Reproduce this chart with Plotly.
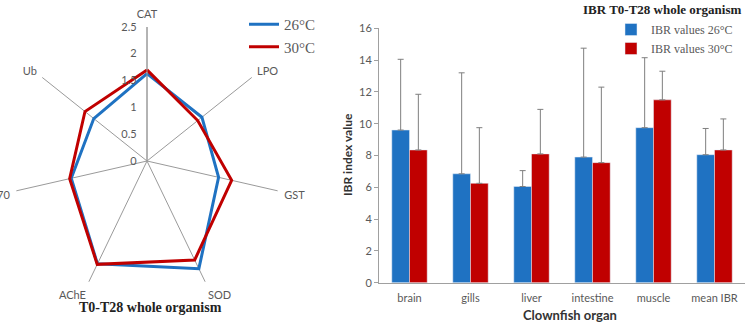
import plotly.graph_objects as go

# Radar data
biomarkers = ["CAT", "LPO", "GST", "SOD", "AChE", "HSP70", "Ub"]
radar_26 = [1.63, 1.31, 1.37, 2.23, 2.13, 1.45, 1.27]
radar_30 = [1.70, 1.21, 1.62, 2.05, 2.14, 1.48, 1.48]
radial_ticks = [0, 0.5, 1, 1.5, 2, 2.5]

# Bar data
organs = ["brain", "gills", "liver", "intestine", "muscle", "mean IBR"]
ibr_26 = [9.6, 6.85, 6.05, 7.9, 9.75, 8.05]
ibr_26_err = [4.45, 6.35, 1.0, 6.85, 4.4, 1.65]
ibr_30 = [8.35, 6.25, 8.1, 7.55, 11.5, 8.35]
ibr_30_err = [3.5, 3.5, 2.8, 4.75, 1.8, 1.95]
y_ticks = [0, 2, 4, 6, 8, 10, 12, 14, 16]

BLUE = "#1F72C2"
RED = "#C00000"
GREY = "#595959"
W, H = 749, 322

fig = go.Figure()

for name, vals, col in [("26°C", radar_26, BLUE), ("30°C", radar_30, RED)]:
    fig.add_trace(go.Scatterpolar(
        r=vals + vals[:1], theta=biomarkers + biomarkers[:1],
        mode="lines", name=name, line=dict(color=col, width=3),
        legend="legend", hoverinfo="skip",
    ))

fig.add_trace(go.Bar(
    x=organs, y=ibr_26, name="IBR values 26°C", marker_color=BLUE,
    error_y=dict(type="data", array=ibr_26_err, arrayminus=[0]*6, color="#7F7F7F", thickness=1, width=3),
    xaxis="x", yaxis="y", legend="legend2",
))
fig.add_trace(go.Bar(
    x=organs, y=ibr_30, name="IBR values 30°C", marker_color=RED,
    error_y=dict(type="data", array=ibr_30_err, arrayminus=[0]*6, color="#7F7F7F", thickness=1, width=3),
    xaxis="x", yaxis="y", legend="legend2",
))

cx, cy, R = 147, 161, 134
fig.update_layout(
    width=W, height=H, margin=dict(l=0, r=0, t=0, b=0, autoexpand=False),
    paper_bgcolor="white", plot_bgcolor="white",
    font=dict(family="Lato", color=GREY, size=11),
    polar=dict(
        domain=dict(x=[(cx - R) / W, (cx + R) / W], y=[(H - cy - R) / H, (H - cy + R) / H]),
        bgcolor="white",
        angularaxis=dict(direction="clockwise", rotation=90, showline=False,
                         showgrid=True, gridcolor="#9A9A9A", gridwidth=1,
                         ticks="outside", ticklen=4, tickcolor="rgba(0,0,0,0)",
                         tickfont=dict(size=11, color=GREY, family="Lato")),
        radialaxis=dict(range=[0, 2.5], tickvals=radial_ticks, angle=90, showgrid=False,
                        showline=True, linecolor="#9A9A9A", side="counterclockwise",
                        ticks="outside", ticklen=6, tickcolor="rgba(0,0,0,0)",
                        tickangle=90, tickfont=dict(size=11, color=GREY, family="Lato")),
    ),
    xaxis=dict(domain=[379 / W, 745 / W], range=[-0.5, 5.5], showline=True, linecolor="#A0A0A0",
               ticks="outside", ticklen=5, tickcolor="rgba(0,0,0,0)", showgrid=False,
               tickfont=dict(size=11, color=GREY), anchor="y"),
    yaxis=dict(domain=[(H - 282.7) / H, (H - 28.3) / H], range=[0, 16], tickvals=y_ticks,
               showline=True, linecolor="#A0A0A0", ticks="outside", ticklen=4, tickcolor="#A0A0A0",
               showgrid=False, zeroline=False, tickfont=dict(size=11, color=GREY), anchor="x"),
    barmode="group", bargap=0.42, bargroupgap=0,
    legend=dict(x=244 / W, y=1 - 8 / H, xanchor="left", yanchor="top",
                font=dict(family="Liberation Serif", size=15, color=GREY),
                bgcolor="rgba(0,0,0,0)", itemwidth=30),
    legend2=dict(x=611 / W, y=1 - 15 / H, xanchor="left", yanchor="top",
                 font=dict(family="Liberation Serif", size=12, color=GREY),
                 bgcolor="rgba(0,0,0,0)", itemwidth=30),
    showlegend=True,
    annotations=[
        dict(text="<b>T0-T28 whole organism</b>", x=150 / W, y=1 - 307 / H, xref="paper", yref="paper",
             xanchor="center", yanchor="middle",
             showarrow=False, font=dict(family="Liberation Serif", size=14, color="#222222")),
        dict(text="<b>IBR T0-T28 whole organism</b>", x=743 / W, y=1 - 9 / H, xref="paper", yref="paper",
             xanchor="right", yanchor="middle", showarrow=False,
             font=dict(family="Liberation Serif", size=13, color="#222222")),
        dict(text="<b>IBR index value</b>", x=347 / W, y=1 - 155 / H, xref="paper", yref="paper",
             xanchor="center", yanchor="middle",
             textangle=-90, showarrow=False, font=dict(family="Lato", size=12, color="#333333")),
        dict(text="<b>Clownfish organ</b>", x=570 / W, y=1 - 315 / H, xref="paper", yref="paper",
             xanchor="center", yanchor="middle",
             showarrow=False, font=dict(family="Lato", size=13, color="#333333")),
    ],
)

fig.write_html("out.html")
